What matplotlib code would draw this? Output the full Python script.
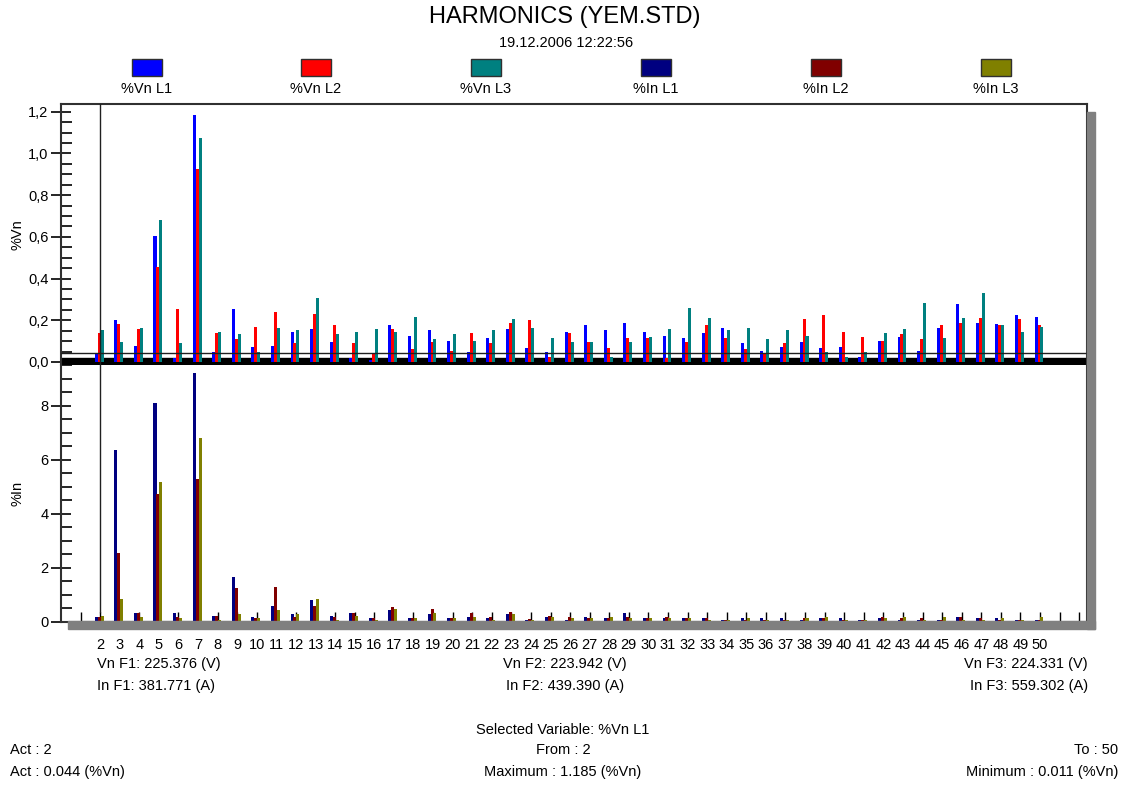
import numpy as np
import matplotlib
matplotlib.use('Agg')
import matplotlib.pyplot as plt
from matplotlib.patches import Rectangle
from matplotlib.ticker import MultipleLocator, FuncFormatter

plt.rcParams['font.family'] = ['Liberation Sans Narrow', 'Liberation Sans', 'DejaVu Sans']

# harmonic orders
harmonics = list(range(2, 51))

# voltage harmonics (%Vn)
vn_l1 = [0.044, 0.200, 0.079, 0.604, 0.018, 1.185, 0.046, 0.253, 0.072, 0.079,
         0.146, 0.157, 0.096, 0.018, 0.011, 0.175, 0.127, 0.152, 0.103, 0.046,
         0.115, 0.157, 0.066, 0.046, 0.146, 0.176, 0.152, 0.188, 0.146, 0.127,
         0.115, 0.139, 0.163, 0.090, 0.054, 0.072, 0.096, 0.066, 0.072, 0.024,
         0.103, 0.120, 0.054, 0.163, 0.279, 0.188, 0.181, 0.224, 0.218]
vn_l2 = [0.138, 0.181, 0.157, 0.454, 0.253, 0.925, 0.138, 0.109, 0.170, 0.242,
         0.090, 0.229, 0.175, 0.090, 0.042, 0.157, 0.061, 0.096, 0.054, 0.139,
         0.091, 0.188, 0.200, 0.024, 0.139, 0.096, 0.066, 0.115, 0.115, 0.018,
         0.096, 0.175, 0.115, 0.061, 0.042, 0.090, 0.205, 0.224, 0.146, 0.120,
         0.103, 0.133, 0.109, 0.175, 0.188, 0.212, 0.175, 0.205, 0.175]
vn_l3 = [0.154, 0.096, 0.163, 0.683, 0.090, 1.075, 0.146, 0.133, 0.046, 0.163,
         0.152, 0.308, 0.133, 0.146, 0.157, 0.146, 0.218, 0.109, 0.133, 0.103,
         0.152, 0.205, 0.163, 0.115, 0.096, 0.096, 0.024, 0.096, 0.122, 0.157,
         0.260, 0.212, 0.152, 0.163, 0.109, 0.152, 0.127, 0.046, 0.024, 0.046,
         0.139, 0.157, 0.284, 0.115, 0.212, 0.333, 0.175, 0.146, 0.170]

# current harmonics (%In)
in_l1 = [0.16, 6.36, 0.31, 8.09, 0.31, 9.20, 0.21, 1.65, 0.16, 0.58,
         0.26, 0.78, 0.21, 0.31, 0.12, 0.41, 0.12, 0.26, 0.12, 0.17,
         0.12, 0.27, 0.07, 0.17, 0.07, 0.17, 0.12, 0.31, 0.12, 0.12,
         0.12, 0.12, 0.07, 0.12, 0.12, 0.12, 0.07, 0.12, 0.12, 0.07,
         0.12, 0.07, 0.07, 0.07, 0.17, 0.12, 0.12, 0.07, 0.07]
in_l2 = [0.16, 2.54, 0.31, 4.73, 0.16, 5.28, 0.21, 1.23, 0.12, 1.28,
         0.16, 0.58, 0.16, 0.31, 0.12, 0.54, 0.12, 0.46, 0.12, 0.32,
         0.17, 0.36, 0.10, 0.21, 0.17, 0.12, 0.12, 0.17, 0.12, 0.17,
         0.12, 0.12, 0.07, 0.07, 0.07, 0.07, 0.12, 0.12, 0.07, 0.07,
         0.17, 0.12, 0.12, 0.07, 0.17, 0.12, 0.07, 0.07, 0.07]
in_l3 = [0.21, 0.83, 0.17, 5.15, 0.12, 6.79, 0.06, 0.26, 0.12, 0.41,
         0.26, 0.83, 0.06, 0.21, 0.06, 0.46, 0.12, 0.32, 0.12, 0.17,
         0.06, 0.26, 0.06, 0.17, 0.12, 0.12, 0.17, 0.12, 0.12, 0.12,
         0.12, 0.07, 0.07, 0.12, 0.07, 0.07, 0.12, 0.17, 0.07, 0.07,
         0.12, 0.17, 0.07, 0.17, 0.07, 0.07, 0.12, 0.07, 0.17]

vn_names = ['%Vn L1', '%Vn L2', '%Vn L3']
in_names = ['%In L1', '%In L2', '%In L3']
vn_colors = ['#0000ff', '#ff0000', '#008080']
in_colors = ['#000080', '#800000', '#808000']

act_harmonic = 2
act_value = 0.044

fig = plt.figure(figsize=(11.21, 7.87), dpi=100)
W, H = 1121, 787


def fx(px):
    return px / W


def fy(py):
    return 1 - py / H


# drop shadow behind the plot frame
fig.patches.append(Rectangle((fx(1087), fy(629)), fx(8), fy(112) - fy(629),
                             transform=fig.transFigure, color='#808080', zorder=0))
fig.patches.append(Rectangle((fx(68), fy(629)), fx(1027), fy(621) - fy(629),
                             transform=fig.transFigure, color='#808080', zorder=0))

ax1 = fig.add_axes([fx(61), fy(365), fx(1087 - 61), fy(104) - fy(365)])
ax2 = fig.add_axes([fx(61), fy(621.5), fx(1087 - 61), fy(365) - fy(621.5)])

x = np.array(harmonics)
offsets = [-0.2, -0.05, 0.1]
bw = 0.155

for vals, col, off in zip([vn_l1, vn_l2, vn_l3], vn_colors, offsets):
    ax1.bar(x + off, vals, width=bw, color=col, zorder=3)
for vals, col, off in zip([in_l1, in_l2, in_l3], in_colors, offsets):
    ax2.bar(x + off, vals, width=bw, color=col, zorder=3)

xlim = (0.0, 52.4)
for ax in (ax1, ax2):
    ax.set_xlim(*xlim)
    for s in ax.spines.values():
        s.set_color('#303030')
        s.set_linewidth(1.5)
    ax.tick_params(axis='y', which='major', direction='inout', length=14, width=1.2,
                   labelsize=10.5, pad=2)
    ax.tick_params(axis='y', which='minor', direction='in', length=8, width=1.2)
    ax.set_facecolor('white')

# top panel (%Vn)
ax1.set_ylim(-0.0144, 1.237)
ax1.yaxis.set_major_locator(MultipleLocator(0.2))
ax1.yaxis.set_minor_locator(MultipleLocator(0.05))
ax1.yaxis.set_major_formatter(FuncFormatter(lambda v, p: ('%.1f' % v).replace('.', ',')))
ax1.set_xticks([])
ax1.spines['bottom'].set_visible(False)
ax1.axhspan(-0.0144, 0.019, color='black', zorder=2)
ax1.axhline(act_value, color='#202020', lw=1.0, zorder=4)
ax1.axvline(act_harmonic, color='#202020', lw=1.0, zorder=4)
ax1.set_ylabel('%Vn', fontsize=10.5, labelpad=14)

# bottom panel (%In)
ax2.set_ylim(0, 9.5)
ax2.yaxis.set_major_locator(MultipleLocator(2))
ax2.yaxis.set_minor_locator(MultipleLocator(0.5))
ax2.spines['top'].set_visible(False)
tick_pos = list(range(1, 53))
ax2.set_xticks(tick_pos)
ax2.set_xticklabels([str(t) if 2 <= t <= 50 else '' for t in tick_pos])
ax2.tick_params(axis='x', direction='in', length=7, width=1.0, labelsize=10.5, pad=12)
for t in ax2.xaxis.get_major_ticks():
    t.tick1line.set_zorder(5)
ax2.axvline(act_harmonic, ymin=0.37 / 9.5, color='#202020', lw=1.0, zorder=4)
ax2.set_ylabel('%In', fontsize=10.5, labelpad=22)
ax1.yaxis.set_label_coords(-0.036, 0.5)
ax2.yaxis.set_label_coords(-0.036, 0.5)

# title and legend
fig.text(fx(565), fy(17), 'HARMONICS (YEM.STD)', ha='center', va='center', fontsize=17)
fig.text(fx(566), fy(43), '19.12.2006 12:22:56', ha='center', va='center', fontsize=10.5)
leg_x = [147, 316, 486, 656, 826, 996]
for cx, name, col in zip(leg_x, vn_names + in_names, vn_colors + in_colors):
    fig.patches.append(Rectangle((fx(cx - 15), fy(76)), fx(30), fy(59) - fy(76),
                                 transform=fig.transFigure, facecolor=col,
                                 edgecolor='#303030', lw=1.0))
    fig.text(fx(cx), fy(89), name, ha='center', va='center', fontsize=10.5)

# fundamental values
fs = 10.5
fig.text(fx(97), fy(664), 'Vn F1: 225.376 (V)', ha='left', va='center', fontsize=fs)
fig.text(fx(97), fy(686), 'In F1: 381.771 (A)', ha='left', va='center', fontsize=fs)
fig.text(fx(565), fy(664), 'Vn F2: 223.942 (V)', ha='center', va='center', fontsize=fs)
fig.text(fx(565), fy(686), 'In F2: 439.390 (A)', ha='center', va='center', fontsize=fs)
fig.text(fx(1088), fy(664), 'Vn F3: 224.331 (V)', ha='right', va='center', fontsize=fs)
fig.text(fx(1088), fy(686), 'In F3: 559.302 (A)', ha='right', va='center', fontsize=fs)

# cursor info
fig.text(fx(563), fy(730), 'Selected Variable: %Vn L1', ha='center', va='center', fontsize=fs)
fig.text(fx(10), fy(750), 'Act : 2', ha='left', va='center', fontsize=fs)
fig.text(fx(563), fy(750), 'From : 2', ha='center', va='center', fontsize=fs)
fig.text(fx(1118), fy(750), 'To : 50', ha='right', va='center', fontsize=fs)
fig.text(fx(10), fy(772), 'Act : 0.044 (%Vn)', ha='left', va='center', fontsize=fs)
fig.text(fx(563), fy(772), 'Maximum : 1.185 (%Vn)', ha='center', va='center', fontsize=fs)
fig.text(fx(1118), fy(772), 'Minimum : 0.011 (%Vn)', ha='right', va='center', fontsize=fs)

fig.savefig('out.png', dpi=100, facecolor='white')
